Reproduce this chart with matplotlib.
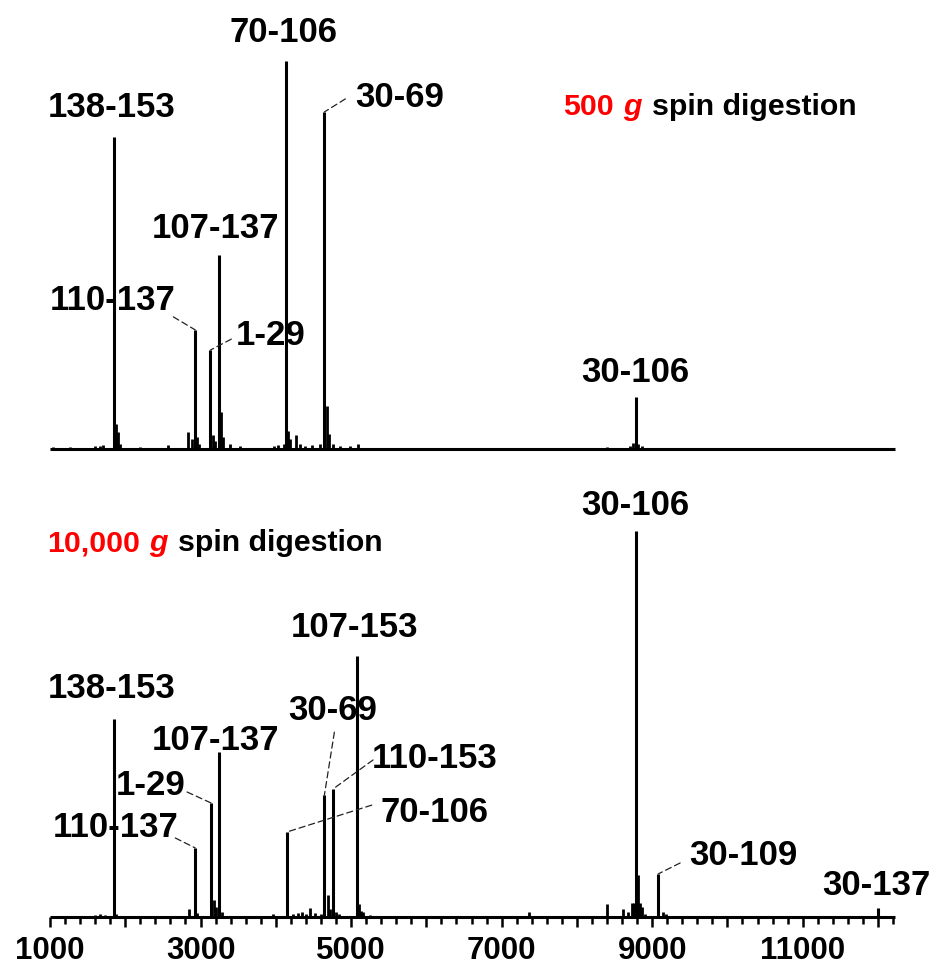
import matplotlib
matplotlib.use("Agg")
import matplotlib.pyplot as plt
from matplotlib.ticker import MultipleLocator, FixedLocator, FixedFormatter

plt.rcParams['font.family'] = ['Liberation Sans', 'DejaVu Sans']
plt.rcParams['font.weight'] = 'bold'

# ---- 500 g spin digestion: labelled fragments (m/z, relative intensity) ----
top_labels = ["138-153", "110-137", "1-29", "107-137", "70-106", "30-69", "30-106"]
top_mz = [1850, 2930, 3130, 3245, 4140, 4645, 8785]
top_int = [80.4, 30.7, 25.5, 50.0, 100.0, 86.9, 13.4]

# minor signals
top_minor_mz = [1040, 1265, 1400, 1600, 1665, 1705, 1877, 1903, 1930, 2195, 2570,
                2835, 2885, 2953, 2980, 3165, 3190, 3270, 3298, 3390, 3525, 3975,
                4030, 4110, 4165, 4190, 4270, 4320, 4390, 4480, 4590, 4680, 4705,
                4760, 4850, 4985, 5090, 5625, 8400, 8705, 8745, 8810, 8865]
top_minor_int = [0.5, 0.5, 0.3, 0.8, 0.8, 1.0, 6.4, 4.4, 1.3, 0.5, 1.0,
                 4.4, 2.6, 3.1, 1.3, 3.6, 2.1, 9.5, 3.1, 1.3, 0.8, 0.8,
                 1.0, 1.3, 4.6, 2.6, 3.6, 1.3, 0.8, 1.0, 1.3, 11.0, 3.9,
                 1.3, 0.8, 0.8, 1.3, 0.3, 0.5, 0.8, 1.5, 1.3, 0.8]

# ---- 10,000 g spin digestion ----
bottom_labels = ["138-153", "110-137", "1-29", "107-137", "70-106", "30-69",
                 "110-153", "107-153", "30-106", "30-109", "30-137"]
bottom_mz = [1850, 2930, 3140, 3245, 4145, 4645, 4760, 5085, 8785, 9080, 12000]
bottom_int = [51.0, 17.8, 29.4, 42.5, 21.9, 31.4, 33.0, 67.3, 99.5, 11.1, 2.3]

bottom_minor_mz = [1130, 1400, 1600, 1665, 1730, 1877, 2195, 2850, 2953, 3175, 3200,
                   3285, 3960, 4230, 4295, 4350, 4400, 4455, 4520, 4600, 4690, 4720,
                   4800, 4840, 5110, 5130, 5160, 5250, 7365, 8400, 8612, 8680, 8735,
                   8760, 8815, 8840, 8865, 8905, 9145, 9185]
bottom_minor_int = [0.3, 0.3, 0.5, 0.8, 0.5, 0.8, 0.3, 2.1, 1.0, 4.4, 2.6,
                    1.3, 0.8, 0.8, 1.0, 1.3, 0.8, 2.3, 1.0, 0.8, 5.7, 2.1,
                    1.3, 0.8, 3.4, 1.5, 1.3, 0.5, 1.3, 3.4, 2.1, 1.3, 3.6,
                    3.6, 10.8, 3.6, 2.6, 0.8, 1.3, 0.8]

# axis ticks
major_ticks = list(range(1000, 13000, 1000))
tick_labels = ["1000", "", "3000", "", "5000", "", "7000", "", "9000", "", "11000", ""]

# label placement: text offset and optional leader end, in points from the peak top
top_layout = {
    "138-153": ((-1.8, 14.4), None),
    "110-137": ((-59.4, 14.4), (-15.8, 9.4)),
    "1-29": ((43.2, 3.6), (15.1, 7.9)),
    "107-137": ((-2.5, 12.2), None),
    "70-106": ((-1.8, 13.7), None),
    "30-69": ((54.0, 3.6), (15.1, 9.4)),
    "30-106": ((-0.7, 10.8), None),
}
bottom_layout = {
    "138-153": ((-1.8, 15.1), None),
    "110-137": ((-57.6, 7.9), (-14.4, 7.2)),
    "1-29": ((-43.6, 5.8), (-17.3, 7.9)),
    "107-137": ((-2.5, 1.4), None),
    "70-106": ((106.6, 7.2), (61.2, 19.4)),
    "30-69": ((6.1, 54.0), (7.2, 45.4)),
    "110-153": ((73.4, 15.1), (28.8, 20.9)),
    "107-153": ((-1.8, 13.7), None),
    "30-106": ((-0.7, 11.5), None),
    "30-109": ((61.6, 6.5), (15.8, 7.9)),
    "30-137": ((-1.4, 9.4), None),
}

W, H = 933, 966
fig = plt.figure(figsize=(W / 100, H / 100), dpi=100)

x0, x1 = 50, 895
XLIM = (1000, 12226)
YLIM = (0, 111.9)
ax_top = fig.add_axes([x0 / W, (H - 449) / H, (x1 - x0) / W, 434 / H])
ax_bot = fig.add_axes([x0 / W, (H - 917) / H, (x1 - x0) / W, 434 / H])

LABEL_FS = 25
for ax, labels, mz, inten, mmz, mint, layout in [
        (ax_top, top_labels, top_mz, top_int, top_minor_mz, top_minor_int, top_layout),
        (ax_bot, bottom_labels, bottom_mz, bottom_int, bottom_minor_mz, bottom_minor_int, bottom_layout)]:
    ax.set_xlim(*XLIM)
    ax.set_ylim(*YLIM)
    for side in ("top", "right", "left"):
        ax.spines[side].set_visible(False)
    ax.spines["bottom"].set_linewidth(2.2)
    ax.spines["bottom"].set_capstyle("butt")
    ax.set_yticks([])
    ax.vlines(mmz, 0, mint, colors="black", linewidth=2.0)
    ax.vlines(mz, 0, inten, colors="black", linewidth=2.2)
    for lab, m, v in zip(labels, mz, inten):
        (dx, dy), leader = layout[lab]
        ax.annotate(lab, xy=(m, v), xytext=(dx, dy), textcoords="offset points",
                    ha="center", va="baseline", fontsize=LABEL_FS, fontweight="bold",
                    annotation_clip=False)
        if leader is not None:
            ax.annotate("", xy=(m, v), xytext=leader, textcoords="offset points",
                        arrowprops=dict(arrowstyle="-", linestyle=(0, (5, 3)),
                                        lw=0.9, color="#222222",
                                        shrinkA=0, shrinkB=0),
                        annotation_clip=False)

ax_top.tick_params(axis="x", bottom=False, labelbottom=False, which="both")

ax_bot.xaxis.set_major_locator(FixedLocator(major_ticks))
ax_bot.xaxis.set_major_formatter(FixedFormatter(tick_labels))
ax_bot.xaxis.set_minor_locator(MultipleLocator(200))
ax_bot.tick_params(axis="x", which="major", direction="out", length=7.5, width=1.8,
                   pad=6.5, labelsize=22.5)
ax_bot.tick_params(axis="x", which="minor", direction="out", length=5, width=1.8)
for t in ax_bot.get_xticklabels():
    t.set_fontweight("bold")


def spin_title(ax, x_px, y_px, amount):
    fs = 21.8
    t1 = ax.annotate(amount, xy=(x_px, H - y_px), xycoords="figure pixels",
                     ha="left", va="baseline", color="#ff0000", fontsize=fs,
                     fontweight="bold", annotation_clip=False)
    t2 = ax.annotate("g", xy=(1, 0), xycoords=t1, xytext=(7, 0),
                     textcoords="offset points", ha="left", va="bottom",
                     color="#ff0000", fontsize=fs, fontweight="bold",
                     fontstyle="italic", annotation_clip=False)
    ax.annotate("spin digestion", xy=(1, 0), xycoords=t2, xytext=(7, 0),
                textcoords="offset points", ha="left", va="bottom",
                color="black", fontsize=fs, fontweight="bold", annotation_clip=False)


spin_title(ax_top, 563, 115, "500")
spin_title(ax_bot, 47, 551, "10,000")

fig.savefig("out.png", dpi=100)
